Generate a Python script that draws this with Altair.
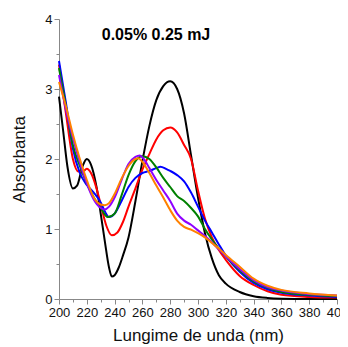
import altair as alt
import pandas as pd

# Wavelength (nm) / absorbance per series
black_x = [200,203,206,210,213,217,220,223,227,230,233,236,238,240,243,246,250,255,260,265,270,275,280,285,290,295,300,305,310,315,320,330,340,350,360,380,400]
black_y = [2.89,2.4,1.9,1.58,1.62,1.9,2.0,1.92,1.6,1.22,0.82,0.45,0.32,0.34,0.45,0.62,0.88,1.4,1.97,2.47,2.84,3.04,3.11,3.0,2.65,2.05,1.45,0.94,0.58,0.34,0.22,0.1,0.04,0.015,0.005,0.0,0.0]

red_x = [200,205,210,214,217,220,223,227,230,234,238,242,246,250,255,260,265,270,275,280,285,290,295,300,305,310,315,320,330,340,350,360,380,400]
red_y = [3.35,2.65,2.0,1.82,1.82,1.86,1.8,1.58,1.35,1.05,0.91,0.95,1.1,1.32,1.58,1.85,2.07,2.28,2.41,2.45,2.38,2.2,2.0,1.55,1.15,0.88,0.7,0.56,0.33,0.2,0.11,0.06,0.03,0.02]

blue_x = [200,205,210,215,220,225,230,233,236,240,245,250,255,260,265,270,273,277,280,285,290,295,300,305,310,315,320,330,340,350,360,380,400]
blue_y = [3.4,2.8,2.15,1.8,1.63,1.52,1.38,1.25,1.17,1.22,1.4,1.6,1.73,1.8,1.83,1.87,1.89,1.86,1.83,1.77,1.68,1.52,1.32,1.12,0.95,0.78,0.62,0.39,0.23,0.14,0.09,0.05,0.03]

green_x = [200,205,210,215,220,225,230,235,240,245,250,255,260,265,270,275,280,285,290,295,300,305,310,315,320,330,340,350,360,380,400]
green_y = [3.3,2.75,2.2,1.9,1.65,1.45,1.3,1.17,1.22,1.48,1.77,1.97,2.04,2.0,1.88,1.73,1.6,1.47,1.4,1.3,1.18,1.0,0.85,0.72,0.61,0.41,0.25,0.16,0.1,0.06,0.04]

purple_x = [200,205,210,215,220,225,230,233,236,240,245,250,255,258,261,265,270,275,280,285,290,295,300,305,310,315,320,330,340,350,360,380,400]
purple_y = [3.2,2.7,2.3,1.95,1.65,1.42,1.3,1.28,1.32,1.45,1.7,1.93,2.03,2.05,2.0,1.87,1.7,1.55,1.4,1.22,1.12,1.06,0.98,0.9,0.81,0.71,0.61,0.43,0.27,0.17,0.12,0.07,0.05]

orange_x = [200,205,210,215,220,225,230,233,236,240,245,250,255,257,260,265,270,275,280,285,290,295,300,305,310,315,320,330,340,350,360,380,400]
orange_y = [3.1,2.75,2.35,2.0,1.7,1.45,1.35,1.34,1.37,1.5,1.72,1.9,2.0,2.01,1.96,1.8,1.62,1.45,1.27,1.12,1.03,0.99,0.94,0.88,0.8,0.72,0.63,0.46,0.29,0.19,0.13,0.08,0.05]

series = [
    ("black", black_x, black_y, "#000000"),
    ("red", red_x, red_y, "#ff0000"),
    ("blue", blue_x, blue_y, "#0000ff"),
    ("green", green_x, green_y, "#008000"),
    ("purple", purple_x, purple_y, "#8f00ff"),
    ("orange", orange_x, orange_y, "#ff8000"),
]

x_ticks = list(range(200, 401, 10))
y_ticks = [i * 0.5 for i in range(9)]

FONT = "Liberation Sans"

x_scale = alt.Scale(domain=[200, 400], nice=False, zero=False)
y_scale = alt.Scale(domain=[0, 4], nice=False)

x_axis = alt.Axis(
    values=x_ticks,
    labelExpr="datum.value % 20 === 0 ? format(datum.value, 'd') : ''",
    title="Lungime de unda (nm)",
    titleFontSize=17, titleFontWeight="normal", titleFont=FONT, titleColor="#111",
    titlePadding=8,
    labelFontSize=13, labelFont=FONT, labelColor="#111", labelPadding=2,
    labelFlush=False, labelOverlap=False,
    tickSize={"condition": {"test": "datum.value % 20 !== 0", "value": 3}, "value": 5},
    grid=False, domainColor="#888", tickColor="#888",
)
y_axis = alt.Axis(
    values=y_ticks,
    labelExpr="datum.value % 1 === 0 ? format(datum.value, 'd') : ''",
    title="Absorbanta",
    titleFontSize=17, titleFontWeight="normal", titleFont=FONT, titleColor="#111",
    titlePadding=16,
    labelFontSize=13, labelFont=FONT, labelColor="#111", labelPadding=2,
    labelFlush=False, labelOverlap=False,
    tickSize={"condition": {"test": "datum.value % 1 !== 0", "value": 3}, "value": 5},
    grid=False, domainColor="#888", tickColor="#888",
)

rows = []
for name, xs, ys, col in series:
    for a, b in zip(xs, ys):
        rows.append({"series": name, "wl": a, "abs": b})
df = pd.DataFrame(rows)

layers = []
for name, xs, ys, col in series:
    layers.append(
        alt.Chart(df).transform_filter(alt.datum.series == name)
        .mark_line(color=col, strokeWidth=2, interpolate="monotone")
        .encode(
            x=alt.X("wl:Q", scale=x_scale, axis=x_axis),
            y=alt.Y("abs:Q", scale=y_scale, axis=y_axis),
        )
    )

title_df = pd.DataFrame({"t": ["0.05% 0.25 mJ"]})
title = alt.Chart(title_df).mark_text(
    font=FONT, fontSize=16, fontWeight="bold", color="#000", align="center", baseline="middle"
).encode(text="t:N", x=alt.value(97), y=alt.value(16))

chart = alt.layer(*layers, title).properties(
    width=278, height=280,
    autosize=alt.AutoSizeParams(type="none"),
    padding={"left": 51, "top": 11, "right": 3, "bottom": 48},
    background="white",
).configure_view(stroke=None)

chart.save("out.html", embed_options={"renderer": "svg", "actions": False})
